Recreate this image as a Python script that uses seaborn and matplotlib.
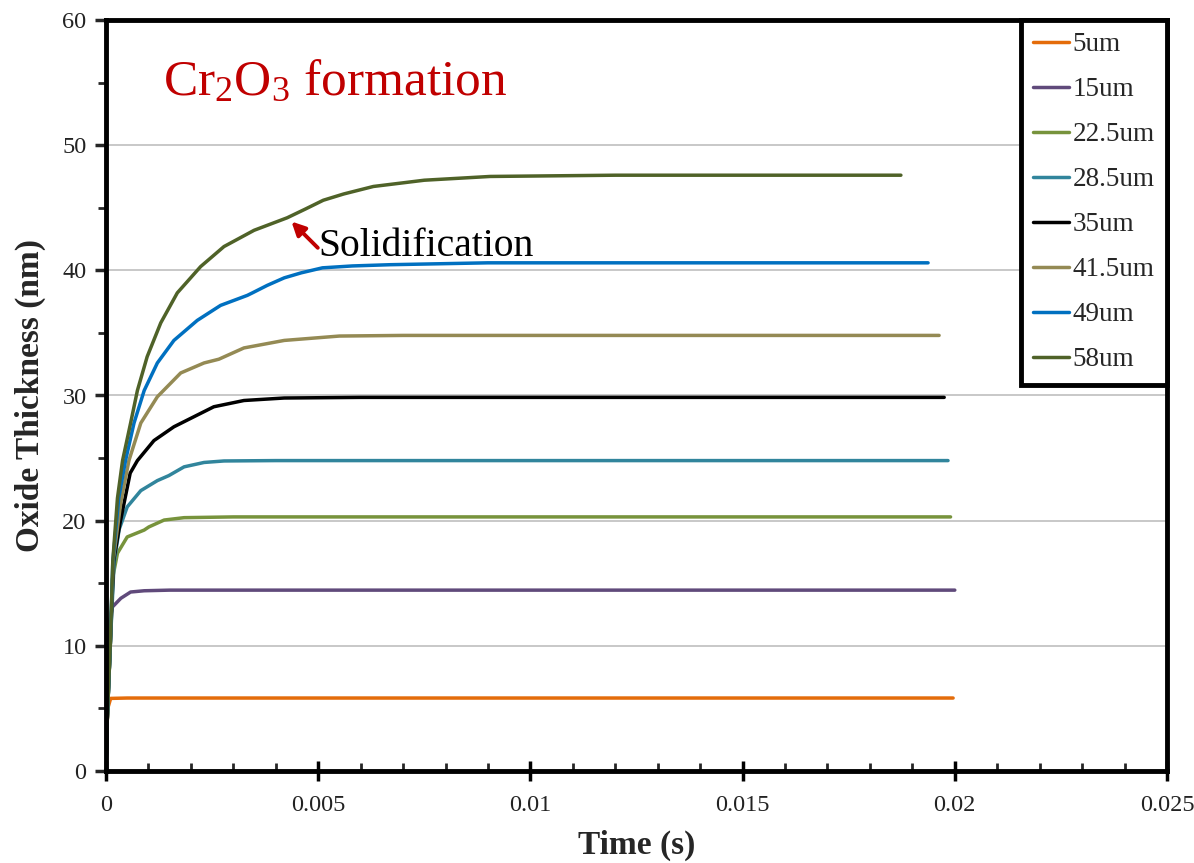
import matplotlib
matplotlib.use("Agg")
import matplotlib.pyplot as plt
import seaborn as sns
import pandas as pd
from matplotlib.ticker import MultipleLocator, FixedLocator, FixedFormatter

# ---- data ----
series_names = ["5um", "15um", "22.5um", "28.5um", "35um", "41.5um", "49um", "58um"]

t_5 = [0, 0.00002, 0.00005, 0.00011, 0.0005, 0.005, 0.01, 0.015, 0.01996]
v_5 = [0, 3.5, 5.1, 5.8, 5.83, 5.83, 5.83, 5.83, 5.83]

t_15 = [0, 0.00002, 0.00005, 0.00015, 0.00035, 0.00058, 0.0009, 0.0015, 0.003, 0.01, 0.02]
v_15 = [0, 3.3, 11.3, 13.1, 13.8, 14.3, 14.4, 14.45, 14.45, 14.45, 14.45]

t_22 = [0, 0.00002, 0.0001, 0.00015, 0.00027, 0.0005, 0.0009, 0.00101, 0.00137, 0.00184, 0.003, 0.01, 0.0199]
v_22 = [0, 3.3, 10.0, 15.3, 17.4, 18.7, 19.25, 19.5, 20.05, 20.24, 20.3, 20.3, 20.3]

t_28 = [0, 0.00002, 0.0001, 0.00019, 0.00031, 0.0005, 0.00082, 0.00121, 0.00148, 0.00184, 0.00231, 0.00278, 0.004, 0.01, 0.01984]
v_28 = [0, 3.3, 10.0, 16.6, 19.3, 21.1, 22.4, 23.2, 23.6, 24.3, 24.65, 24.77, 24.8, 24.8, 24.8]

t_35 = [0, 0.00002, 0.0001, 0.00018, 0.00033, 0.00057, 0.00074, 0.00113, 0.0016, 0.00207, 0.00254, 0.00325, 0.0042, 0.006, 0.01, 0.01975]
v_35 = [0, 3.3, 10.0, 16.8, 19.8, 23.8, 24.8, 26.4, 27.5, 28.3, 29.1, 29.6, 29.8, 29.85, 29.85, 29.85]

t_41 = [0, 0.00002, 0.0001, 0.00017, 0.00035, 0.00054, 0.00082, 0.00121, 0.00176, 0.00231, 0.00266, 0.00325, 0.0042, 0.0055, 0.007, 0.01, 0.01963]
v_41 = [0, 3.3, 10.0, 16.8, 21.5, 24.8, 27.8, 29.9, 31.8, 32.6, 32.9, 33.8, 34.4, 34.75, 34.8, 34.8, 34.8]

t_49 = [0, 0.00002, 0.0001, 0.00016, 0.0003, 0.00046, 0.00066, 0.0009, 0.00121, 0.0016, 0.00215, 0.0027, 0.00333, 0.00345, 0.0038, 0.0042, 0.0046, 0.0051, 0.0058, 0.0067, 0.009, 0.012, 0.01937]
v_49 = [0, 3.3, 10.0, 16.7, 21.8, 24.8, 27.8, 30.4, 32.6, 34.4, 36.0, 37.2, 38.0, 38.2, 38.8, 39.4, 39.8, 40.2, 40.35, 40.45, 40.6, 40.6, 40.6]

t_58 = [0, 0.00002, 0.0001, 0.00016, 0.00027, 0.00039, 0.00058, 0.00074, 0.00097, 0.00129, 0.00168, 0.00223, 0.00278, 0.00349, 0.00427, 0.0047, 0.00512, 0.0056, 0.0063, 0.0075, 0.00905, 0.012, 0.01873]
v_58 = [0, 3.3, 10.0, 16.8, 21.8, 24.8, 27.8, 30.4, 33.1, 35.8, 38.2, 40.3, 41.9, 43.2, 44.2, 44.9, 45.6, 46.1, 46.7, 47.2, 47.5, 47.6, 47.6]

series_t = [t_5, t_15, t_22, t_28, t_35, t_41, t_49, t_58]
series_v = [v_5, v_15, v_22, v_28, v_35, v_41, v_49, v_58]

colors = ["#E46C0A", "#604A7B", "#77933C", "#31859C", "#000000", "#948A54", "#0070C0", "#4F6228"]

x_ticks = [0, 0.005, 0.01, 0.015, 0.02, 0.025]
x_ticklabels = ["0", "0.005", "0.01", "0.015", "0.02", "0.025"]
y_ticks = [0, 10, 20, 30, 40, 50, 60]

title_text = "Cr$\\mathregular{_2}$O$\\mathregular{_3}$ formation"
annot_text = "Solidification"
arrow_head = (0.00437, 43.9)
arrow_tail = (0.00499, 41.8)
annot_text_pos = (0.00500, 41.9)

# ---- build long-form table ----
rows = []
for name, ts, vs in zip(series_names, series_t, series_v):
    for t, v in zip(ts, vs):
        rows.append({"Time": t, "Thickness": v, "Series": name})
df = pd.DataFrame(rows)

sns.set_theme(style="white")
plt.rcParams["font.family"] = ["Liberation Serif", "DejaVu Serif"]
plt.rcParams["mathtext.fontset"] = "custom"
plt.rcParams["mathtext.rm"] = "Liberation Serif"

fig = plt.figure(figsize=(11.94, 8.63), dpi=100)
ax = fig.add_axes([106 / 1194, 1 - 771 / 863, (1167 - 106) / 1194, (771 - 20) / 863])

sns.lineplot(data=df, x="Time", y="Thickness", hue="Series", hue_order=series_names,
             palette=colors, linewidth=2.5, ax=ax, estimator=None, sort=False)
for line in ax.get_lines():
    line.set_solid_joinstyle("round")

ax.set_xlim(0, 0.025)
ax.set_ylim(0, 60)
ax.xaxis.set_major_locator(FixedLocator(x_ticks))
ax.xaxis.set_major_formatter(FixedFormatter(x_ticklabels))
ax.xaxis.set_minor_locator(MultipleLocator(0.001))
ax.yaxis.set_major_locator(FixedLocator(y_ticks))
ax.yaxis.set_minor_locator(MultipleLocator(5))

ax.grid(axis="y", which="major", color="#BFBFBF", linewidth=1.2)
ax.grid(axis="x", visible=False)
ax.set_axisbelow(True)

for s in ax.spines.values():
    s.set_visible(True)
    s.set_color("black")
    s.set_linewidth(3.5)

ax.tick_params(axis="x", which="major", direction="inout", length=14, width=2.5,
               labelsize=17.5, pad=10, bottom=True, colors="black")
ax.tick_params(axis="x", which="minor", direction="in", length=6, width=2, bottom=True)
ax.tick_params(axis="y", which="major", direction="out", length=8, width=2.5,
               labelsize=17.5, pad=6, left=True)
ax.tick_params(axis="y", which="minor", direction="out", length=6, width=2, left=True)
for lab in ax.get_xticklabels() + ax.get_yticklabels():
    lab.set_color("#222222")

ax.set_xlabel("Time (s)", fontsize=24, fontweight="bold", labelpad=10)
ax.set_ylabel("Oxide Thickness (nm)", fontsize=24, fontweight="bold", labelpad=12)

ax.text(0.00135, 55.0, title_text, fontsize=37, color="#C00000", va="center", ha="left")

ax.text(annot_text_pos[0], annot_text_pos[1], annot_text, fontsize=28.5, color="black",
        va="center", ha="left")
ax.annotate("", xy=arrow_head, xytext=arrow_tail,
            arrowprops=dict(arrowstyle="-|>", color="#C00000", lw=2.8, mutation_scale=20,
                            shrinkA=0, shrinkB=0))

leg = ax.legend(loc="upper right", bbox_to_anchor=(1.0, 1.0), borderaxespad=0,
                fontsize=19.5, frameon=True, fancybox=False, framealpha=1.0,
                handlelength=1.3, handletextpad=0.15, labelspacing=0.74,
                borderpad=0.45, title=None)
leg.get_frame().set_edgecolor("black")
leg.get_frame().set_facecolor("white")
leg.get_frame().set_linewidth(3.5)
for line in leg.get_lines():
    line.set_linewidth(2.5)

fig.savefig("out.png", dpi=100)
